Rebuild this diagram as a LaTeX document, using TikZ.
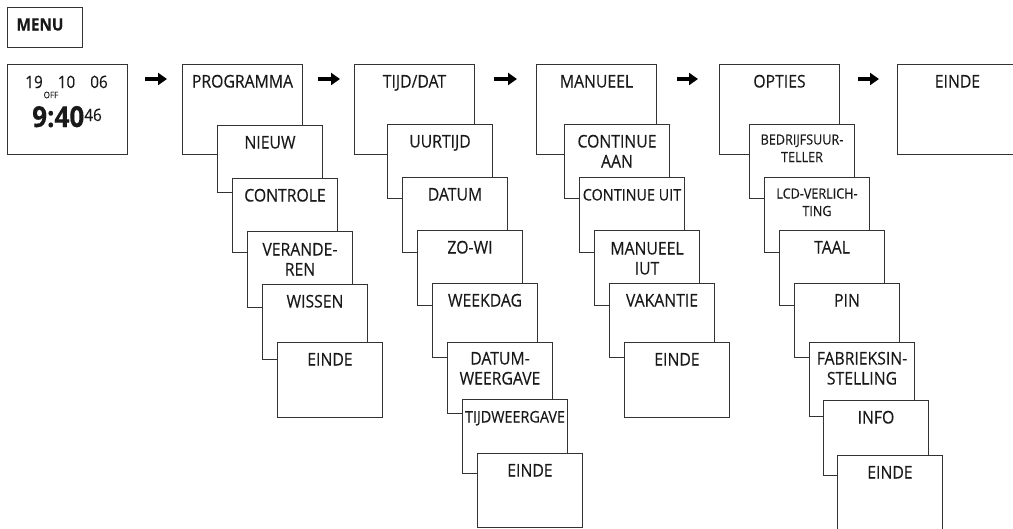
\documentclass[tikz,border=0pt]{standalone}
\usepackage{fontspec}
\setmainfont{Open Sans}[FakeStretch=0.9, FakeBold=0.2]
\usetikzlibrary{arrows.meta}

\tikzset{
  caja/.style={draw=black!80, line width=1pt, fill=white, anchor=north west,
    minimum width=105pt, inner sep=0pt, align=center, text=black!90,
    font=\fontsize{17.5}{20}\selectfont, text height=23pt, text depth=#1},
  caja/.default=51pt,
  principal/.style={caja=67pt, minimum width=120pt},
  media/.style={font=\fontsize{16}{20}\selectfont},
  chica/.style={font=\fontsize{14}{17.5}\selectfont},
  flecha/.style={line width=4pt, -{Triangle[length=9pt,width=12pt]}},
}

\begin{document}
\begin{tikzpicture}[x=1pt, y=-1pt]
\useasboundingbox (0,0) rectangle (1013,528);
\clip (0,0) rectangle (1013,528);

% Menu y pantalla
\node [caja=17pt, minimum width=0pt, text width=57pt, inner xsep=9pt, align=left,
  font=\fontsize{17}{20}\selectfont\bfseries] (menu) at (7,7) {MENU};
\node [principal] (reloj) at (7,64) {};
\node [anchor=base, text=black!90, font=\fontsize{17}{20}\selectfont] (fecha) at (66.5,88) {19\hspace{15pt}10\hspace{15pt}06};
\node [text=black!90, font=\fontsize{9}{9}\selectfont] (off) at (51,95) {OFF};
\node [anchor=base, text=black!90, font=\fontsize{29}{29}\selectfont\bfseries] (hora) at (67,127)
  {9:40\raisebox{6pt}{\fontsize{17}{20}\mdseries\selectfont 46}};

% PROGRAMMA
\node [principal] (prog) at (182,64) {PROGRAMMA};
\node [caja=44pt] (nieuw) at (217,125) {NIEUW};
\node [caja=51pt] (controle) at (232,178) {CONTROLE};
\node [caja=32pt, text height=44pt] (veranderen) at (247,231) {VERANDE-\\REN};
\node [caja=52pt] (wissen) at (262,284) {WISSEN};
\node [caja=52pt] (einde1) at (277,342) {EINDE};

% TIJD/DAT
\node [principal] (tijd) at (354,64) {TIJD/DAT};
\node [caja=51pt] (uurtijd) at (387,124) {UURTIJD};
\node [caja=52pt] (datum) at (402,177) {DATUM};
\node [caja=52pt] (zowi) at (417,230) {ZO-WI};
\node [caja=51pt] (weekdag) at (432,283) {WEEKDAG};
\node [caja=29pt, text height=42pt] (datumweerg) at (447,342) {DATUM-\\WEERGAVE};
\node [caja=51pt, media] (tijdweerg) at (462,399) {TIJDWEERGAVE};
\node [caja=51pt] (einde2) at (477,453) {EINDE};

% MANUEEL
\node [principal] (manueel) at (536,64) {MANUEEL};
\node [caja=31pt, text height=43pt] (aan) at (564,124) {CONTINUE\\AAN};
\node [caja=52pt, media] (uit) at (579,177) {CONTINUE UIT};
\node [caja=31pt, text height=44pt] (iut) at (594,230) {MANUEEL\\IUT};
\node [caja=51pt] (vakantie) at (609,283) {VAKANTIE};
\node [caja=52pt] (einde3) at (624,342) {EINDE};

% OPTIES
\node [principal] (opties) at (719,64) {OPTIES};
\node [caja=36.5pt, chica, text height=37.5pt] (teller) at (749,124) {BEDRIJFSUUR-\\TELLER};
\node [caja=36.5pt, chica, text height=38.5pt] (lcd) at (764,177) {LCD-VERLICH-\\TING};
\node [caja=52pt] (taal) at (779,230) {TAAL};
\node [caja=51pt] (pin) at (794,283) {PIN};
\node [caja=32pt, text height=42pt] (fabriek) at (809,342) {FABRIEKSIN-\\STELLING};
\node [caja=52pt] (info) at (823,400) {INFO};
\node [caja=51pt] (einde4) at (837,455) {EINDE};

% Einde
\node [principal] (einde) at (897,64) {EINDE};

% Flechas
\draw [flecha, shorten <=17pt, shorten >=15pt] ([yshift=-15pt]reloj.north east) -- ([yshift=-15pt]prog.north west);
\draw [flecha, shorten <=15pt, shorten >=14pt] ([yshift=-15pt]prog.north east) -- ([yshift=-15pt]tijd.north west);
\draw [flecha, shorten <=19pt, shorten >=19pt] ([yshift=-15pt]tijd.north east) -- ([yshift=-15pt]manueel.north west);
\draw [flecha, shorten <=20pt, shorten >=21pt] ([yshift=-15pt]manueel.north east) -- ([yshift=-15pt]opties.north west);
\draw [flecha, shorten <=18pt, shorten >=18pt] ([yshift=-15pt]opties.north east) -- ([yshift=-15pt]einde.north west);
\end{tikzpicture}
\end{document}
